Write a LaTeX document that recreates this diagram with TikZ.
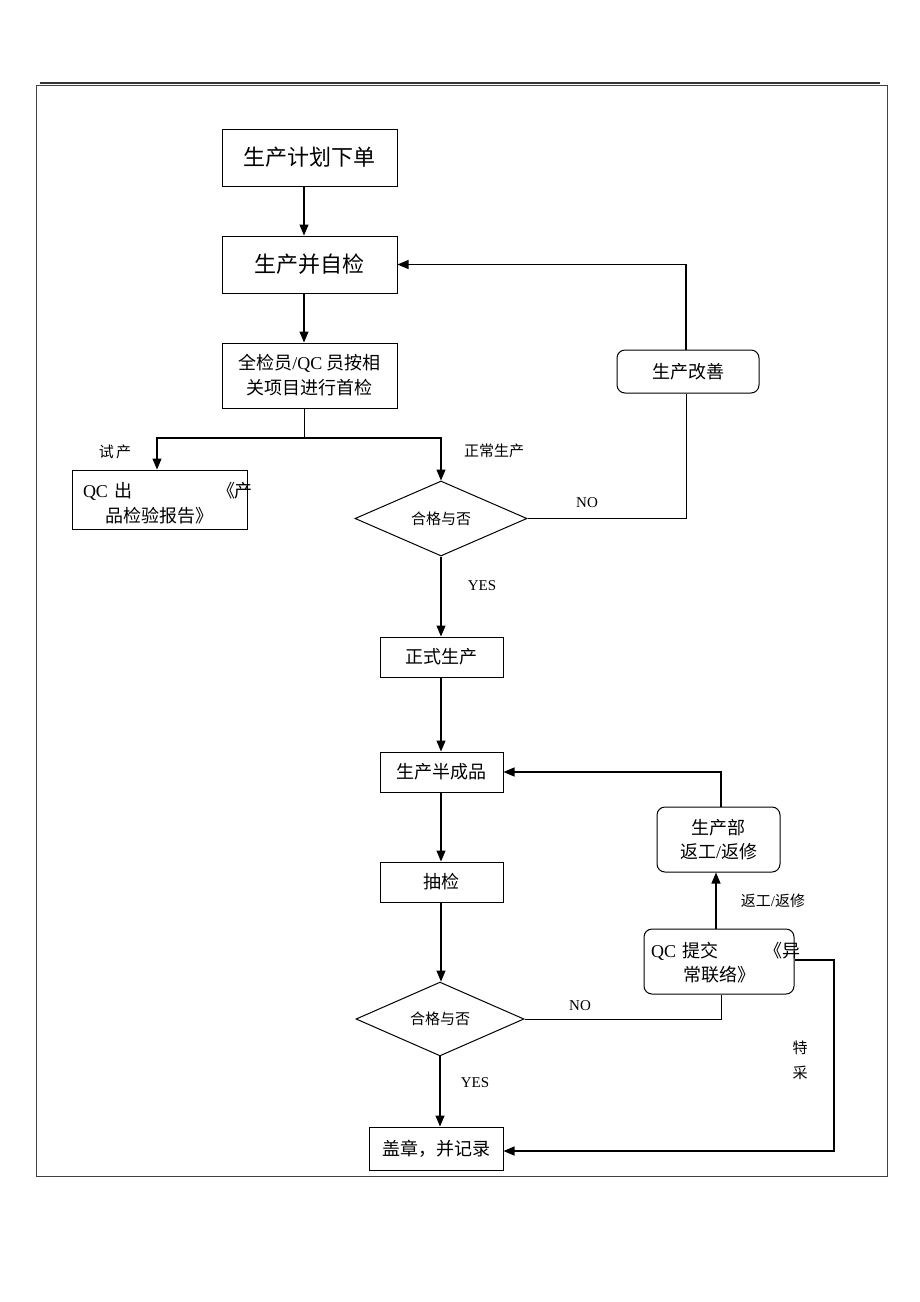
\documentclass[tikz,border=0pt]{standalone}
\usepackage{fontspec}
\setmainfont{Noto Sans CJK SC}
\newfontfamily\lat{Liberation Serif}
\usetikzlibrary{arrows.meta,shapes.geometric}
\begin{document}
\begin{tikzpicture}[x=1pt,y=-1pt,
  box/.style={draw, line width=1pt, inner sep=0pt, align=center, font=\fontsize{18}{24}\selectfont},
  bigbox/.style={box, minimum width=175pt, minimum height=57pt, font=\fontsize{22}{26}\selectfont},
  midbox/.style={box, minimum width=123pt, minimum height=40pt},
  rbox/.style={box, rounded corners=8pt},
  dia/.style={draw, diamond, line width=1pt, inner sep=0pt, font=\fontsize{15}{18}\selectfont},
  arr/.style={-{Triangle[length=11pt,width=9pt]}, line width=1.2pt},
  ln/.style={line width=1pt},
  lbl/.style={inner sep=0pt, font=\fontsize{15}{18}\selectfont},
  latl/.style={inner sep=0pt, font=\lat\fontsize{15}{18}\selectfont}]
\useasboundingbox[fill=white] (0,0) rectangle (920,1302);
% frame
\draw[line width=0.9pt, black!75] (36,85) rectangle (887,1176);
\draw[line width=2pt, black!80] (40,83) -- (880,83);
% nodes
\node[bigbox] (n1) at (309.5,157.5) {生产计划下单};
\node[bigbox] (n2) at (309.5,264.5) {生产并自检};
\node[box, minimum width=175pt, minimum height=65pt, font=\fontsize{18}{25}\selectfont] (n3) at (309.5,375.5) {全检员{\lat/QC} 员按相\\关项目进行首检};
\node[box, minimum width=175pt, minimum height=59pt] (n4) at (159.5,499.5) {};
\node[inner sep=0pt, text width=170pt, align=left, font=\fontsize{18}{25}\selectfont] (n4t) at (168,503) {{\lat QC} 出\hfill《产\\\hspace*{22pt}品检验报告》};
\node[dia, minimum width=172pt, minimum height=75pt] (d1) at (441,518.5) {合格与否};
\node[rbox, minimum width=142pt, minimum height=43pt] (n6) at (688,371.5) {生产改善};
\node[midbox] (n7) at (441.5,657) {正式生产};
\node[midbox] (n8) at (441.5,772) {生产半成品};
\node[midbox] (n9) at (441.5,882) {抽检};
\node[dia, minimum width=168pt, minimum height=71pt] (d2) at (440,1019) {合格与否};
\node[box, minimum width=134pt, minimum height=43pt] (n11) at (436,1148.5) {盖章，并记录};
\node[rbox, minimum width=123pt, minimum height=65pt] (n12) at (718.5,839.5) {生产部\\返工{\lat/}返修};
\node[rbox, minimum width=150pt, minimum height=65pt] (n13) at (719,961.5) {};
\node[inner sep=0pt, text width=150pt, align=left, font=\fontsize{18}{24}\selectfont] (n13t) at (726,963) {{\lat QC} 提交\hfill《异\\\hspace*{32pt}常联络》};
% helper coordinates
\coordinate (c1) at (304,0);
\coordinate (j1) at (304,438);
\coordinate (c834) at (834,0);
% connectors
\draw[arr] (n1.south -| c1) -- (n2.north -| c1);
\draw[arr] (n2.south -| c1) -- (n3.north -| c1);
\draw[ln] (n3.south -| c1) -- (j1);
\draw[arr] (j1) -| ([xshift=-2.5pt]n4.north);
\draw[arr] (j1) -| (d1.north);
\draw[ln] (d1.east) -| ([xshift=-2pt]n6.south);
\draw[arr] ([xshift=-2pt]n6.north) |- (n2.east);
\draw[arr] (d1.south) -- (d1.south |- n7.north);
\draw[arr] (n7.south -| d1.south) -- (n8.north -| d1.south);
\draw[arr] (n8.south -| d1.south) -- (n9.north -| d1.south);
\draw[arr] (n9.south -| d1.south) -- (d2.north -| d1.south);
\draw[arr] (d2.south) -- (d2.south |- n11.north);
\draw[ln] (d2.east) -| ([xshift=2pt]n13.south);
\draw[arr] ([xshift=-3pt]n13.north) -- ([xshift=-2.5pt]n12.south);
\draw[arr] ([xshift=2.5pt]n12.north) |- (n8.east);
\draw[arr] ([yshift=1.5pt]n13.east) -| ([yshift=-2.5pt]n11.east -| c834) -- ([yshift=-2.5pt]n11.east);
% labels
\node[lbl] (l1) at (115,452) {试\,产};
\node[lbl] (l2) at (494,451) {正常生产};
\node[latl] (l3) at (587,503) {NO};
\node[latl] (l4) at (482,586) {YES};
\node[latl] (l5) at (580,1006) {NO};
\node[latl] (l6) at (475,1083) {YES};
\node[lbl] (l7) at (773,901) {返工{\lat/}返修};
\node[lbl, align=center, font=\fontsize{15}{25}\selectfont] (l8) at (800,1060.5) {特\\采};
\end{tikzpicture}
\end{document}
